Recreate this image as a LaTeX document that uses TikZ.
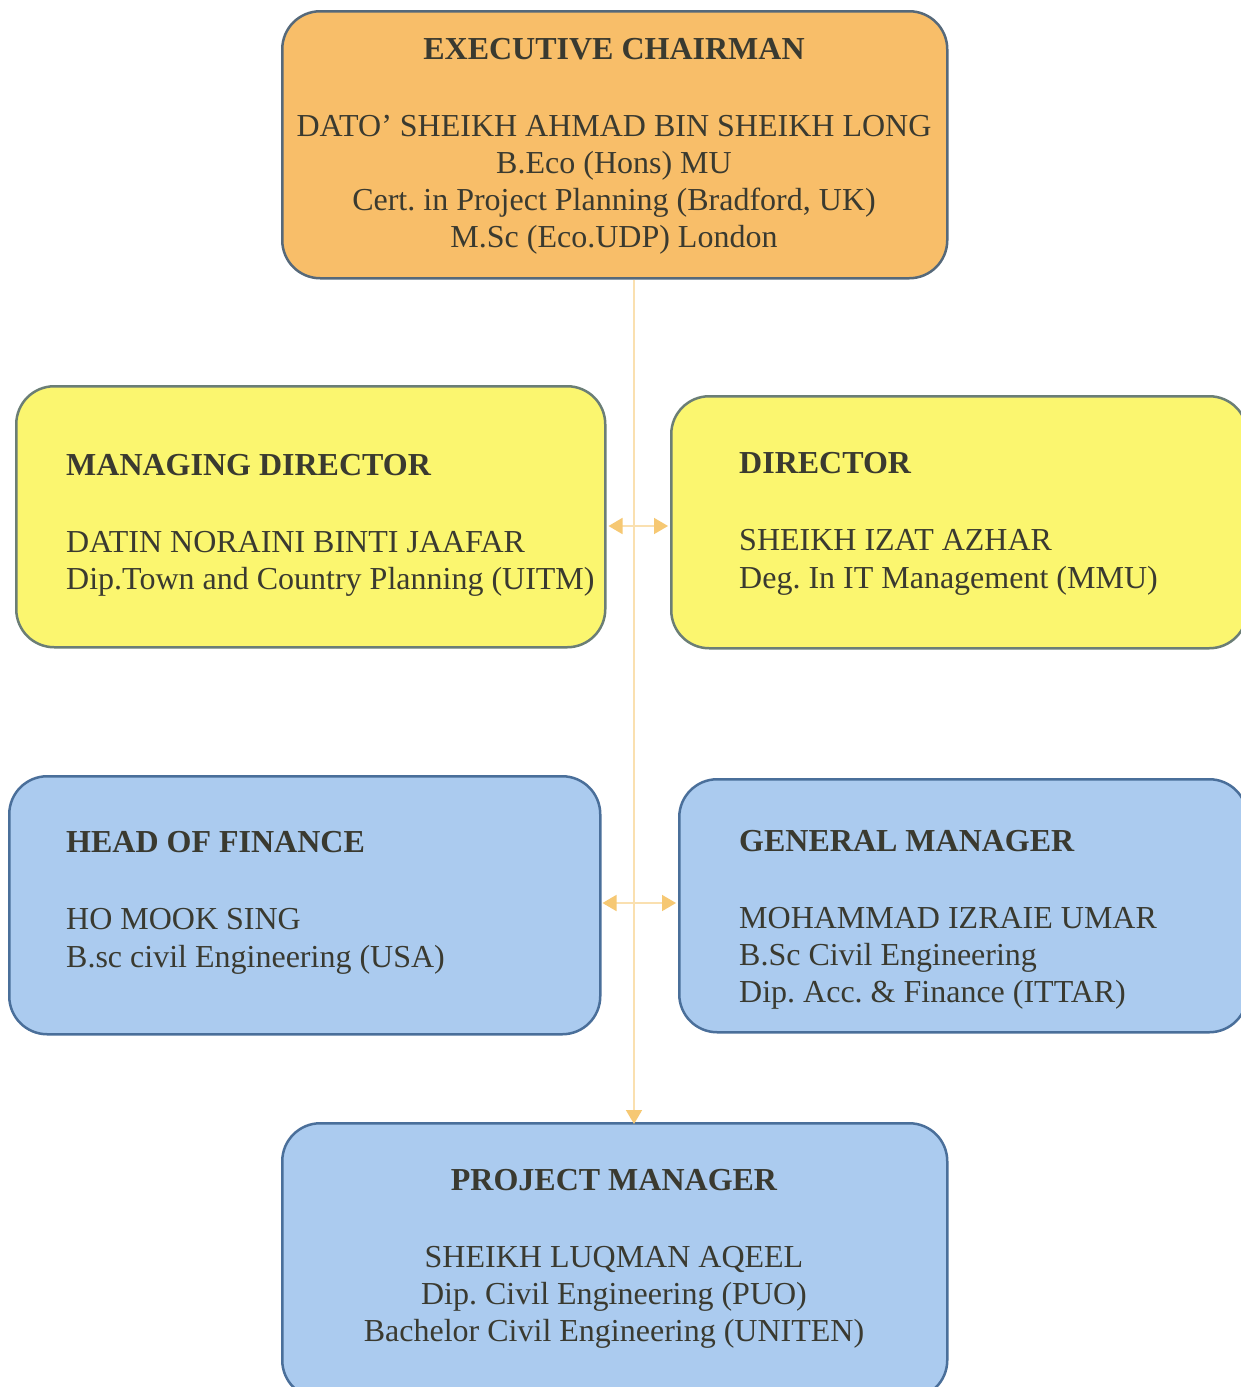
\documentclass[tikz,border=0pt]{standalone}
\usepackage{fontspec}
\setmainfont{Liberation Serif}
\frenchspacing
\usetikzlibrary{arrows.meta}
\definecolor{txt}{HTML}{3A3A30}
\definecolor{orangefill}{HTML}{F8BE69}
\definecolor{orangeedge}{HTML}{56697A}
\definecolor{yellowfill}{HTML}{FBF66F}
\definecolor{yellowedge}{HTML}{6B7E76}
\definecolor{bluefill}{HTML}{ABCBEF}
\definecolor{blueedge}{HTML}{4A6F9A}
\definecolor{linkline}{HTML}{FAE0B0}
\definecolor{linktip}{HTML}{F6C873}
\tikzset{
  box/.style={draw, line width=2.5pt, rounded corners=38pt, anchor=north west, inner sep=0pt},
  orangebox/.style={box, fill=orangefill, draw=orangeedge},
  yellowbox/.style={box, fill=yellowfill, draw=yellowedge},
  bluebox/.style={box, fill=bluefill, draw=blueedge},
  lbl/.style={text=txt, inner sep=0pt, font=\fontsize{32}{37}\selectfont},
  ttl/.style={lbl, font=\fontsize{32}{37}\selectfont\bfseries},
  link/.style={draw=linkline, line width=1.6pt},
  tip/.style={-{Triangle[length=14pt,width=16pt,color=linktip]}},
  dtip/.style={{Triangle[length=14pt,width=16pt,color=linktip]}-{Triangle[length=14pt,width=16pt,color=linktip]}},
}
\begin{document}
\begin{tikzpicture}[x=1pt,y=-1pt]
\useasboundingbox (0,0) rectangle (1241,1387);
\clip (0,0) rectangle (1241,1387);
\fill[white] (0,0) rectangle (1241,1387);

% boxes
\node[orangebox, minimum width=665pt, minimum height=267pt] (ec) at (281,10) {};
\node[yellowbox, minimum width=589pt, minimum height=261pt] (md) at (15,385) {};
\node[yellowbox, minimum width=576pt, minimum height=252pt] (dir) at (670,395) {};
\node[bluebox, minimum width=591pt, minimum height=258pt] (hf) at (8,775) {};
\node[bluebox, minimum width=568pt, minimum height=253pt] (gm) at (678,778) {};
\node[bluebox, minimum width=665pt, minimum height=275pt] (pm) at (281,1122) {};

% connectors
\coordinate (spine) at (634,0);
\coordinate (rowA) at (0,526);
\coordinate (rowB) at (0,903);
\draw[link, tip] (ec.south -| spine) -- ([yshift=-2pt]pm.north -| spine);
\draw[link, dtip] ([xshift=2pt]md.east |- rowA) -- ([xshift=-2pt]dir.west |- rowA);
\draw[link, dtip] ([xshift=1pt]hf.east |- rowB) -- ([xshift=-2pt]gm.west |- rowB);

% executive chairman
\node[ttl, anchor=base] (ect) at (614,59) {EXECUTIVE CHAIRMAN};
\node[lbl, anchor=base] (ec1) at (614,136) {DATO’ SHEIKH AHMAD BIN SHEIKH LONG};
\node[lbl, anchor=base] (ec2) at (614,173) {B.Eco (Hons) MU};
\node[lbl, anchor=base] (ec3) at (614,210) {Cert. in Project Planning (Bradford, UK)};
\node[lbl, anchor=base] (ec4) at (614,247) {M.Sc (Eco.UDP) London};

% managing director
\node[ttl, anchor=base west] (mdt) at (66,475) {MANAGING DIRECTOR};
\node[lbl, anchor=base west] (md1) at (66,552) {DATIN NORAINI BINTI JAAFAR};
\node[lbl, anchor=base west] (md2) at (66,589) {Dip.Town and Country Planning (UITM)};

% director
\node[ttl, anchor=base west] (dirt) at (739,473) {DIRECTOR};
\node[lbl, anchor=base west] (dir1) at (739,550) {SHEIKH IZAT AZHAR};
\node[lbl, anchor=base west] (dir2) at (739,588) {Deg. In IT Management (MMU)};

% head of finance
\node[ttl, anchor=base west] (hft) at (66,852) {HEAD OF FINANCE};
\node[lbl, anchor=base west] (hf1) at (66,929) {HO MOOK SING};
\node[lbl, anchor=base west] (hf2) at (66,967) {B.sc civil Engineering (USA)};

% general manager
\node[ttl, anchor=base west] (gmt) at (739,851) {GENERAL MANAGER};
\node[lbl, anchor=base west] (gm1) at (739,928) {MOHAMMAD IZRAIE UMAR};
\node[lbl, anchor=base west] (gm2) at (739,965) {B.Sc Civil Engineering};
\node[lbl, anchor=base west] (gm3) at (739,1002) {Dip. Acc. \& Finance (ITTAR)};

% project manager
\node[ttl, anchor=base] (pmt) at (614,1190) {PROJECT MANAGER};
\node[lbl, anchor=base] (pm1) at (614,1267) {SHEIKH LUQMAN AQEEL};
\node[lbl, anchor=base] (pm2) at (614,1304) {Dip. Civil Engineering (PUO)};
\node[lbl, anchor=base] (pm3) at (614,1341) {Bachelor Civil Engineering (UNITEN)};
\end{tikzpicture}
\end{document}
